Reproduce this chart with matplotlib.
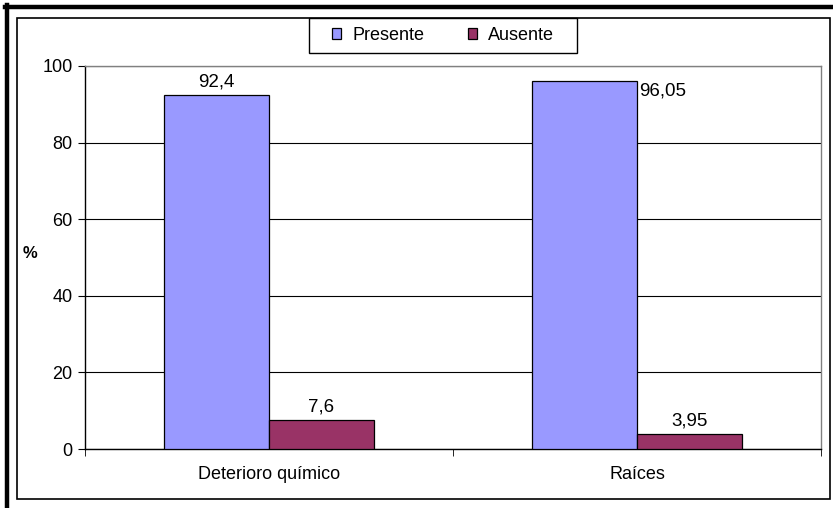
import matplotlib
matplotlib.use("Agg")
import matplotlib.pyplot as plt
import numpy as np
from matplotlib.patches import Rectangle
from matplotlib.lines import Line2D

plt.rcParams['font.family'] = ['Liberation Sans', 'DejaVu Sans']
plt.rcParams['font.size'] = 13

categories = ["Deterioro químico", "Raíces"]
presente = [92.4, 96.05]
ausente = [7.6, 3.95]
series_names = ["Presente", "Ausente"]
presente_labels = ["92,4", "96,05"]
ausente_labels = ["7,6", "3,95"]
yticks = [0, 20, 40, 60, 80, 100]

W, H = 833, 508
fig = plt.figure(figsize=(W / 100, H / 100), dpi=100)
fig.patch.set_facecolor("white")


def fx(px):
    return px / W


def fy(py):
    return 1 - py / H


# heavy outer border along the top and left edges
fig.add_artist(Line2D([fx(5), fx(833)], [fy(7), fy(7)], color="black", lw=3.2,
                      transform=fig.transFigure))
fig.add_artist(Line2D([fx(7), fx(7)], [fy(5), fy(508)], color="black", lw=3.2,
                      transform=fig.transFigure))
# thin chart-area frame
fig.add_artist(Rectangle((fx(17), fy(499)), fx(830) - fx(17), fy(18) - fy(499),
                         fill=False, edgecolor="black", lw=1.2,
                         transform=fig.transFigure))

ax = fig.add_axes([fx(85), fy(449), fx(821) - fx(85), fy(66) - fy(449)])

x = np.arange(len(categories))
w = 0.2853
c_pres = "#9999FF"
c_aus = "#993366"
b1 = ax.bar(x - w / 2, presente, w, color=c_pres, edgecolor="black", lw=0.9,
            label=series_names[0], zorder=3)
b2 = ax.bar(x + w / 2, ausente, w, color=c_aus, edgecolor="black", lw=0.9,
            label=series_names[1], zorder=3)

ax.set_xlim(-0.5, len(categories) - 0.5)
ax.set_ylim(0, 100)
ax.set_yticks(yticks)
ax.yaxis.grid(True, color="black", lw=0.8, zorder=0)
ax.set_axisbelow(True)

ax.set_xticks(x)
ax.set_xticklabels(categories)
ax.set_xticks(np.arange(-0.5, len(categories), 1.0), minor=True)
ax.tick_params(axis="x", which="major", length=0, pad=12)
ax.tick_params(axis="x", which="minor", length=5, direction="out", color="black")
ax.tick_params(axis="y", length=5, direction="out", pad=4)

for s in ["top", "right"]:
    ax.spines[s].set_color("#808080")
    ax.spines[s].set_linewidth(1.0)
for s in ["left", "bottom"]:
    ax.spines[s].set_color("black")
    ax.spines[s].set_linewidth(1.0)

ax.set_ylabel("%", rotation=0, fontweight="bold", fontsize=12, va="center")
ax.yaxis.set_label_coords(-0.075, 0.51)

# value labels
for i, r in enumerate(b1):
    top = r.get_height()
    if i == 0:
        ax.annotate(presente_labels[i], (r.get_x() + r.get_width() / 2, top),
                    xytext=(0, 3), textcoords="offset points",
                    ha="center", va="bottom", fontsize=13.5)
    else:
        ax.annotate(presente_labels[i], (r.get_x() + r.get_width(), top),
                    xytext=(1.5, -1), textcoords="offset points",
                    ha="left", va="top", fontsize=13.5)
for i, r in enumerate(b2):
    ax.annotate(ausente_labels[i], (r.get_x() + r.get_width() / 2, r.get_height()),
                xytext=(0, 3), textcoords="offset points",
                ha="center", va="bottom", fontsize=13.5)

# legend box
fig.add_artist(Rectangle((fx(309), fy(53)), fx(577) - fx(309), fy(18) - fy(53),
                         fill=True, facecolor="white", edgecolor="black", lw=1.0,
                         transform=fig.transFigure, zorder=4))
leg = fig.legend(handles=[b1, b2], labels=series_names, ncol=2, loc="center",
                 bbox_to_anchor=(fx(443), fy(35.5)),
                 frameon=False, handlelength=0.5, handleheight=0.5,
                 handletextpad=0.6, borderaxespad=0, borderpad=0,
                 columnspacing=2.4, fontsize=13)
leg.set_zorder(5)

fig.savefig("out.png", dpi=100, facecolor="white")
